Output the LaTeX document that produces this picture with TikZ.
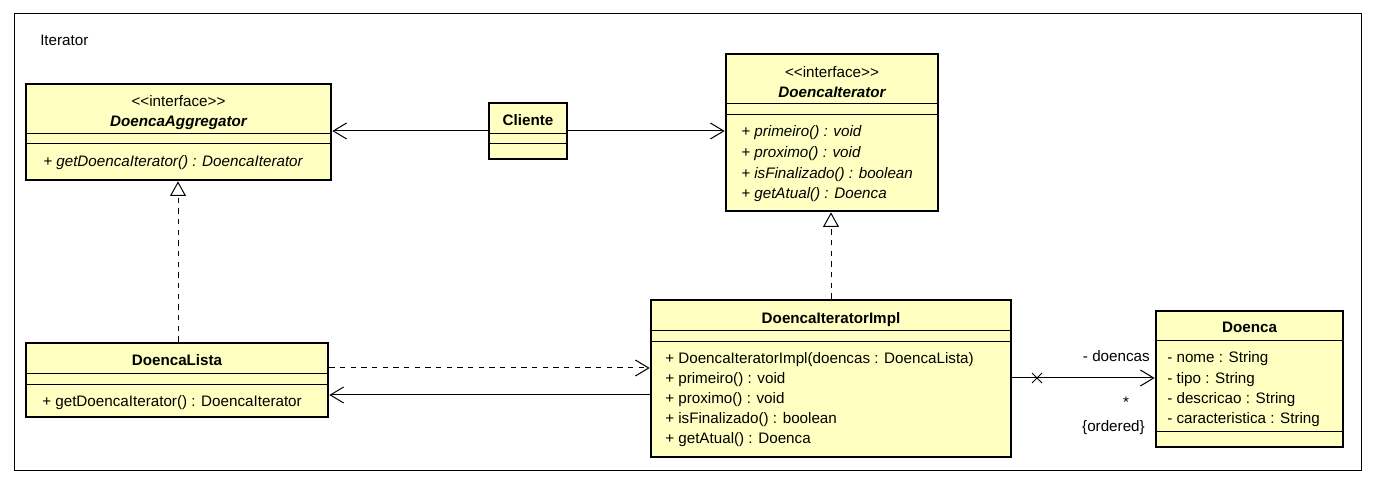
\documentclass[tikz,border=0pt]{standalone}
\usepackage{fontspec}
\setmainfont{Liberation Sans}
\usetikzlibrary{arrows.meta}
\newcommand\stereo[1]{<\kern0pt<#1>\kern0pt>}

\begin{document}
\begin{tikzpicture}[x=0.75pt, y=-0.75pt,
  font=\fontsize{11.4}{13.7}\selectfont,
  cls/.style={draw, line width=2pt, fill=classfill, inner sep=0pt},
  sep/.style={line width=0.75pt},
  txt/.style={inner sep=0pt, anchor=mid west, yshift=-1.5pt},
  ttl/.style={inner sep=0pt, anchor=mid, yshift=-1.5pt},
  link/.style={line width=0.75pt, -{Straight Barb[length=10pt, width=12pt, line width=0.75pt]}},
  realize/.style={line width=0.75pt, dash pattern=on 4pt off 4pt,
    -{Triangle[open, length=11pt, width=12pt, line width=0.75pt, fill=white]}}]
\definecolor{classfill}{RGB}{255,255,194}

\useasboundingbox (0,0) rectangle (1374,484);
\draw[line width=0.75pt] (14,14) rectangle (1361,470);
\node[txt] (pkg) at (40,40) {Iterator};

% DoencaAggregator
\begin{scope}
\node[cls, minimum width=228.75pt, minimum height=72pt] (agg) at (178.5,132) {};
\draw[sep] (agg.west |- 0,134) -- (agg.east |- 0,134);
\draw[sep] (agg.west |- 0,144) -- (agg.east |- 0,144);
\node[ttl] (aggst) at (178.5,101) {\stereo{interface}};
\node[ttl] (aggnm) at (178.5,121) {\bfseries\itshape DoencaAggregator};
\node[txt] (aggm1) at (43,161) {\itshape + getDoencaIterator() : DoencaIterator};
\end{scope}

% Cliente
\begin{scope}
\node[cls, minimum width=58.5pt, minimum height=42pt] (cli) at (528,131) {};
\draw[sep] (cli.west |- 0,134) -- (cli.east |- 0,134);
\draw[sep] (cli.west |- 0,144) -- (cli.east |- 0,144);
\node[ttl] (clinm) at (528,120) {\bfseries Cliente};
\end{scope}

% DoencaIterator
\begin{scope}
\node[cls, minimum width=159pt, minimum height=117.75pt] (itr) at (832,132.5) {};
\draw[sep] (itr.west |- 0,104) -- (itr.east |- 0,104);
\draw[sep] (itr.west |- 0,115) -- (itr.east |- 0,115);
\node[ttl] (itrst) at (832,72) {\stereo{interface}};
\node[ttl] (itrnm) at (832,92) {\bfseries\itshape DoencaIterator};
\node[txt] (itrm1) at (741,131) {\itshape + primeiro() : void};
\node[txt] (itrm2) at (741,152) {\itshape + proximo() : void};
\node[txt] (itrm3) at (741,173) {\itshape + isFinalizado() : boolean};
\node[txt] (itrm4) at (741,193) {\itshape + getAtual() : Doenca};
\end{scope}

% DoencaIteratorImpl
\begin{scope}
\node[cls, minimum width=270pt, minimum height=117.75pt] (impl) at (831,378.5) {};
\draw[sep] (impl.west |- 0,331) -- (impl.east |- 0,331);
\draw[sep] (impl.west |- 0,342) -- (impl.east |- 0,342);
\node[ttl] (implnm) at (831,318) {\bfseries DoencaIteratorImpl};
\node[txt] (implm1) at (665,358) {+ DoencaIteratorImpl(doencas : DoencaLista)};
\node[txt] (implm2) at (665,378) {+ primeiro() : void};
\node[txt] (implm3) at (665,398) {+ proximo() : void};
\node[txt] (implm4) at (665,418) {+ isFinalizado() : boolean};
\node[txt] (implm5) at (665,438) {+ getAtual() : Doenca};
\end{scope}

% DoencaLista
\begin{scope}
\node[cls, minimum width=226.5pt, minimum height=55.5pt] (lista) at (177,380) {};
\draw[sep] (lista.west |- 0,374) -- (lista.east |- 0,374);
\draw[sep] (lista.west |- 0,385) -- (lista.east |- 0,385);
\node[ttl] (listanm) at (177,360) {\bfseries DoencaLista};
\node[txt] (listam1) at (42,401) {+ getDoencaIterator() : DoencaIterator};
\end{scope}

% Doenca
\begin{scope}
\node[cls, minimum width=140.25pt, minimum height=102pt] (doenca) at (1249.5,379) {};
\draw[sep] (doenca.west |- 0,341) -- (doenca.east |- 0,341);
\draw[sep] (doenca.west |- 0,431) -- (doenca.east |- 0,431);
\node[ttl] (doencanm) at (1249.5,327) {\bfseries Doenca};
\node[txt] (doencaa1) at (1167,357) {- nome : String};
\node[txt] (doencaa2) at (1167,378) {- tipo : String};
\node[txt] (doencaa3) at (1167,398) {- descricao : String};
\node[txt] (doencaa4) at (1167,418) {- caracteristica : String};
\end{scope}

% connectors
\draw[link] (cli.west |- 0,131) -- (agg.east |- 0,131);
\draw[link] (cli.east |- 0,131) -- (itr.west |- 0,131);
\draw[realize] (lista.north -| 178,0) -- (agg.south -| 178,0);
\draw[realize] (impl.north) -- (itr.south -| impl.north);
\draw[link, dash pattern=on 4pt off 4pt] (lista.east |- 0,368) -- (impl.west |- 0,368);
\draw[link] (impl.west |- 0,395) -- (lista.east |- 0,395);
\draw[link] (impl.east |- 0,378) -- (doenca.west |- 0,378);
\coordinate (nav) at (1037,378);
\draw[line width=0.75pt] (nav) +(-5,-5) -- +(5,5) (nav) +(-5,5) -- +(5,-5);
\node[txt, anchor=mid east] (role) at (1150,356) {- doencas};
\node[ttl] (mult) at (1126,402) {*};
\node[txt, anchor=mid east] (ord) at (1145,426) {\{ordered\}};

\end{tikzpicture}
\end{document}
